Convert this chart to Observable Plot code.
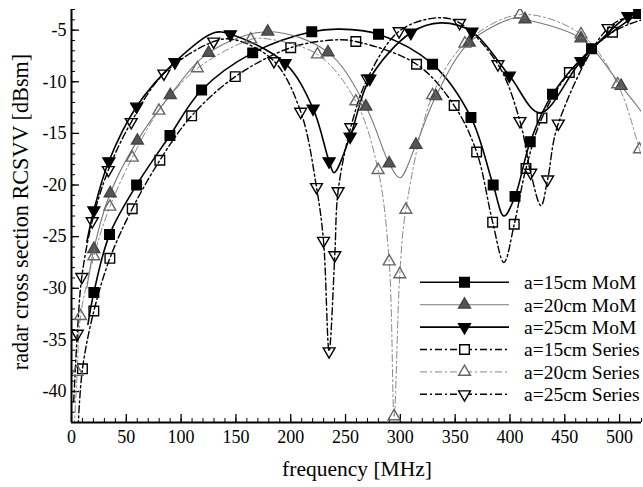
<!DOCTYPE html>
<html><head><meta charset="utf-8">
<script src="https://cdn.jsdelivr.net/npm/d3@7"></script>
<script src="https://cdn.jsdelivr.net/npm/@observablehq/plot@0.6"></script>
<style>
body{margin:0;background:#fff;}
#wrap{position:relative;width:643px;height:487px;font-family:"Liberation Serif","Times New Roman",serif;}
#wrap svg{display:block;}
#overlay{position:absolute;left:0;top:0;pointer-events:none;}
</style></head><body><div id="wrap"></div>
<script>
// ---- data (frequency MHz, RCS dBsm) ----
const xTicks = [0, 50, 100, 150, 200, 250, 300, 350, 400, 450, 500];
const yTicks = [-40, -35, -30, -25, -20, -15, -10, -5];
const legendLabels = ["a=15cm MoM", "a=20cm MoM", "a=25cm MoM", "a=15cm Series", "a=20cm Series", "a=25cm Series"];

// marker points
const mom15 = [[20.4,-30.4],[34.7,-24.8],[59.4,-20.0],[89.8,-15.2],[118.7,-10.8],[165.3,-7.2],[219.2,-5.15],[280.1,-5.4],[329.4,-8.3],[364.4,-13.45],[384.7,-20.0],[404.6,-21.1],[418.5,-15.8],[438.8,-11.2],[474.4,-6.8],[517.4,-3.4]];
const mom20 = [[20.4,-26.2],[35.3,-20.8],[60.1,-15.7],[90.1,-11.3],[125.1,-7.2],[179,-5.15],[234,-7.15],[268.5,-12.4],[289.8,-17.9],[314.2,-16.1],[332.4,-11.4],[362.8,-6.2],[413.7,-3.95],[464.8,-5.8],[501.4,-10.4]];
const mom25 = [[20.4,-22.45],[34.1,-17.7],[59.4,-12.4],[94.3,-8.1],[144.9,-5.4],[194.8,-8.2],[220.4,-12.6],[235,-17.7],[254.2,-15.3],[272.1,-9.7],[309.6,-5.25],[365.3,-5.15],[399.4,-9.4],[464.8,-8.0],[507.6,-3.65]];
const ser15 = [[10.0,-37.8],[20.4,-32.2],[35.0,-27.1],[55.4,-22.3],[80.6,-17.6],[109.6,-13.3],[149.4,-9.5],[200,-6.7],[259.4,-6.1],[314.8,-8.3],[349.1,-12.3],[369.6,-16.8],[384.2,-23.6],[403.9,-23.8],[414.6,-18.4],[429.2,-13.5],[454.2,-9.1],[493.6,-5.2]];
const ser20 = [[5.2,-38.1],[8.2,-32.7],[20.4,-26.9],[35,-22.1],[55.4,-17.35],[79.7,-12.8],[114.8,-8.7],[163.5,-5.9],[224.4,-7.35],[259.4,-11.9],[279.7,-18.55],[289.8,-27.4],[294.3,-42.4],[299.5,-28.65],[305,-22.4],[329.4,-11.3],[358.9,-6.3],[409.1,-3.5],[464.8,-5.4],[498.3,-10.25],[518.1,-16.55]];
const ser25 = [[5.3,-34.4],[9.4,-28.9],[18.9,-23.5],[33.6,-18.55],[54.5,-13.9],[84.3,-9.2],[129.7,-6.1],[184.7,-8.0],[209.1,-12.9],[223.5,-20.2],[229.9,-25.4],[235,-36.1],[240.2,-26.8],[243.2,-20.6],[254.8,-14.4],[270,-9.7],[298.9,-5.1],[354,-4.3],[389,-8.3],[409.1,-13.8],[418.9,-18.8],[434.4,-19.45],[444.1,-14.05],[489.5,-4.8]];

// additional curve points (line only: starts, peaks, dips, ends)
const mom15Curve = [[15,-33.5],[245,-4.9],[394.5,-23.0]];
const mom20Curve = [[14,-30],[405,-3.8],[299.5,-19.3],[520,-12.9]];
const mom25Curve = [[14,-25.5],[130,-5.25],[239.5,-18.8],[337,-4.3],[427.4,-13.0],[520,-3.3]];
const ser15Curve = [[6,-43.5],[240,-5.95],[394.5,-27.5],[520,-4.0]];
const ser20Curve = [[2.5,-43.5],[175,-5.8],[520,-17.2]];
const ser25Curve = [[2,-41],[148,-5.9],[334,-3.8],[428.3,-22.0],[520,-3.2]];

// ---- styles ----
const downTriangle = {
  draw(context, size) {
    const y = Math.sqrt(size / (Math.sqrt(3) * 3));
    context.moveTo(0, y * 2);
    context.lineTo(-Math.sqrt(3) * y, -y);
    context.lineTo(Math.sqrt(3) * y, -y);
    context.closePath();
  }
};
const DASHDOT = "7,3,2,3";
const series = [
  {pts: mom15, curve: mom15Curve, symbol: "square", r: 5.4, fill: "#000", mstroke: "#000", stroke: "#000", width: 1.6, dash: null},
  {pts: mom20, curve: mom20Curve, symbol: "triangle", r: 4.4, fill: "#555", mstroke: "#444", stroke: "#777", width: 1.1, dash: null},
  {pts: mom25, curve: mom25Curve, symbol: downTriangle, r: 4.4, fill: "#000", mstroke: "#000", stroke: "#000", width: 1.6, dash: null},
  {pts: ser15, curve: ser15Curve, symbol: "square", r: 5.4, fill: "none", mstroke: "#000", stroke: "#000", width: 1.4, dash: DASHDOT},
  {pts: ser20, curve: ser20Curve, symbol: "triangle", r: 4.4, fill: "none", mstroke: "#666", stroke: "#888", width: 1.0, dash: DASHDOT},
  {pts: ser25, curve: ser25Curve, symbol: downTriangle, r: 4.4, fill: "none", mstroke: "#000", stroke: "#000", width: 1.4, dash: DASHDOT}
];

const toRows = pts => pts.map(([f, v]) => ({f, v}));
const marks = [];
for (const s of series) {
  const lineRows = toRows([...s.pts, ...s.curve]).sort((a, b) => a.f - b.f);
  marks.push(Plot.line(lineRows, {x: "f", y: "v", curve: "catmull-rom", stroke: s.stroke, strokeWidth: s.width, strokeDasharray: s.dash || undefined, clip: true}));
}
for (const s of series) {
  marks.push(Plot.dot(toRows(s.pts), {x: "f", y: "v", symbol: s.symbol, r: s.r, fill: s.fill, stroke: s.mstroke, strokeWidth: 1.4, clip: true}));
}

const chart = Plot.plot({
  width: 643, height: 487,
  marginLeft: 71, marginRight: 2, marginTop: 9, marginBottom: 65,
  style: {fontFamily: "'Liberation Serif', 'Times New Roman', serif", background: "#fff", color: "#000"},
  x: {domain: [0, 520]},
  y: {domain: [-43, -3]},
  marks: [
    Plot.axisX(d3.range(0, 521, 10), {tickSize: -4, text: null, label: null}),
    Plot.axisY(d3.range(-43, -2, 1), {tickSize: -4, text: null, label: null}),
    Plot.axisX(xTicks, {tickSize: -8, text: null, label: null, strokeWidth: 1.3}),
    Plot.axisY(yTicks, {tickSize: -8, text: null, label: null, strokeWidth: 1.3}),
    Plot.axisX(xTicks, {tickSize: 0, tickPadding: 8, fontSize: 18, tickFormat: d => String(d), label: null}),
    Plot.axisY(yTicks, {tickSize: 0, tickPadding: 5, fontSize: 18, tickFormat: d => String(d), label: null}),
    ...marks,
    Plot.ruleX([0], {strokeWidth: 2}),
    Plot.ruleY([-43], {strokeWidth: 2})
  ]
});
const wrap = document.getElementById("wrap");
wrap.appendChild(chart);

// overlay: axis titles and legend
const ov = d3.select(wrap).append("svg").attr("id", "overlay").attr("width", 643).attr("height", 487)
  .style("font-family", "'Liberation Serif', 'Times New Roman', serif");
ov.append("text").attr("x", 357).attr("y", 476).attr("text-anchor", "middle").attr("font-size", 21.5).text("frequency [MHz]");
ov.append("text").attr("transform", "translate(28,212) rotate(-90)").attr("text-anchor", "middle").attr("font-size", 22.2).text("radar cross section RCSVV [dBsm]");

const lg = ov.append("g");
series.forEach((s, i) => {
  const y = 282.3 + i * 22.4;
  lg.append("line").attr("x1", 420).attr("x2", 509).attr("y1", y).attr("y2", y)
    .attr("stroke", s.stroke).attr("stroke-width", s.width).attr("stroke-dasharray", s.dash);
  const size = s.r * s.r * Math.PI;
  const sym = typeof s.symbol === "string" ? (s.symbol === "square" ? d3.symbolSquare : d3.symbolTriangle) : s.symbol;
  lg.append("path").attr("d", d3.symbol(sym, size)()).attr("transform", `translate(464.5,${y})`)
    .attr("fill", s.fill === "none" ? "#fff" : s.fill).attr("stroke", s.mstroke).attr("stroke-width", 1.4);
  lg.append("text").attr("x", 524).attr("y", y).attr("dy", "0.35em").attr("font-size", 19.5).text(legendLabels[i]);
});
</script></body></html>
